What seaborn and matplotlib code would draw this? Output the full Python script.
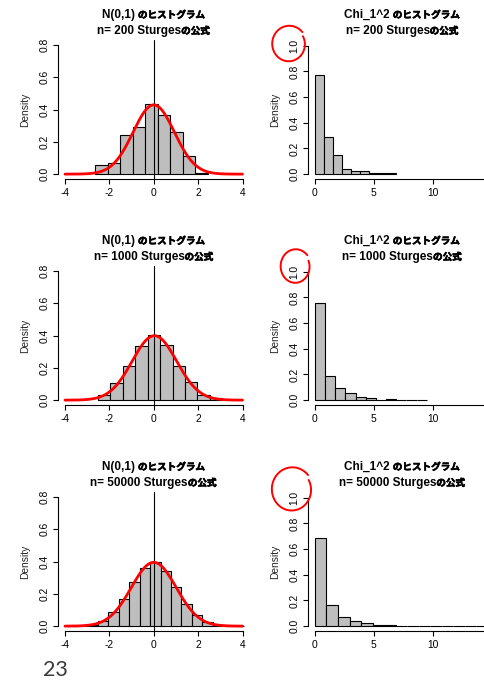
import numpy as np
import pandas as pd
import matplotlib
matplotlib.use("Agg")
import matplotlib.pyplot as plt
import matplotlib.patheffects as pe
from matplotlib.lines import Line2D
from matplotlib.offsetbox import TextArea, HPacker, AnchoredOffsetbox
import seaborn as sns

# ---------------- data ----------------
sample_sizes = [200, 1000, 50000]

# N(0,1) samples: bin edges (Sturges' number of classes) and densities
norm_edges_200 = [-2.64, -2.075, -1.51, -0.945, -0.38, 0.185, 0.75, 1.315, 1.88, 2.445]
norm_density_200 = [0.056, 0.066, 0.240, 0.292, 0.435, 0.364, 0.263, 0.112, 0.009]

norm_edges_1000 = [-2.517, -1.956, -1.395, -0.834, -0.273, 0.288, 0.849, 1.41,
                   1.971, 2.532, 3.093]
norm_density_1000 = [0.029, 0.108, 0.213, 0.333, 0.402, 0.342, 0.211, 0.110, 0.033, 0.014]

norm_edges_50000 = [-3.927, -3.457, -2.986, -2.516, -2.046, -1.575, -1.105, -0.634,
                    -0.164, 0.306, 0.777, 1.247, 1.717, 2.188, 2.658, 3.129, 3.599, 4.07]
norm_density_50000 = [0.0005, 0.0024, 0.0095, 0.033, 0.085, 0.168, 0.275, 0.360, 0.395,
                      0.340, 0.240, 0.139, 0.066, 0.027, 0.008, 0.0015, 0.0003]

# fitted normal curve (sample mean, sample sd) for each N(0,1) panel
norm_fit_mean = [0.0, 0.03, 0.0]
norm_fit_sd = [0.93, 1.0, 1.01]

# chi-square(1) samples
chi_edges_200 = [0.0, 0.761, 1.522, 2.283, 3.044, 3.805, 4.566, 5.327, 6.088, 6.849]
chi_density_200 = [0.774, 0.292, 0.146, 0.039, 0.027, 0.027, 0.007, 0.007, 0.007]

chi_edges_1000 = [0.0, 0.863, 1.725, 2.588, 3.451, 4.314, 5.176, 6.039, 6.902, 7.765,
                  8.627, 9.49]
chi_density_1000 = [0.753, 0.186, 0.098, 0.052, 0.021, 0.018, 0.005, 0.011, 0.003, 0.003,
                    0.005]

chi_edges_50000 = [0.0, 0.98, 1.96, 2.94, 3.92, 4.90, 5.88, 6.86, 7.84, 8.82, 9.80, 10.78,
                   11.76, 12.74, 13.72, 14.70, 15.68, 16.66]
chi_density_50000 = [0.687, 0.164, 0.075, 0.037, 0.022, 0.012, 0.007, 0.004, 0.002,
                     0.0013, 0.0007, 0.0004, 0.0002, 0.0001, 0.0001, 0.00005, 0.00003]

norm_edges = [norm_edges_200, norm_edges_1000, norm_edges_50000]
norm_density = [norm_density_200, norm_density_1000, norm_density_50000]
chi_edges = [chi_edges_200, chi_edges_1000, chi_edges_50000]
chi_density = [chi_density_200, chi_density_1000, chi_density_50000]

norm_xticks = [-4, -2, 0, 2, 4]
norm_yticks = [0.0, 0.2, 0.4, 0.6, 0.8]
chi_xticks = [0, 5, 10]
chi_axis_end = 15          # x axis line runs on to the next tick (past the page edge)
chi_yticks = [0.0, 0.2, 0.4, 0.6, 0.8, 1.0]

# ---------------- style ----------------
sns.set_style("ticks")
plt.rcParams["font.family"] = ["Liberation Sans", "Noto Sans CJK JP", "DejaVu Sans"]
plt.rcParams["axes.unicode_minus"] = False

W, H = 484, 681
fig = plt.figure(figsize=(W / 100, H / 100), dpi=100)
fig.patch.set_facecolor("white")

ROW_STEP = 226
BAR_GRAY = "#BEBEBE"
TICK_SIZE = 7.4
LATIN_TITLE = dict(family="Liberation Sans", weight="bold", size=8.5, color="black")
CJK_TITLE = dict(family="Noto Sans CJK JP", weight="bold", size=6.9, color="black",
                 path_effects=[pe.withStroke(linewidth=0.45, foreground="black")])


def px_box(x0, top, x1, bottom):
    return [x0 / W, 1 - bottom / H, (x1 - x0) / W, (bottom - top) / H]


def title_line(parts, cx, cy):
    boxes = [TextArea(s, textprops=p) for s, p in parts]
    row = HPacker(children=boxes, align="baseline", pad=0, sep=0)
    anchored = AnchoredOffsetbox(loc="center", child=row, pad=0, borderpad=0,
                                 frameon=False, bbox_to_anchor=(cx / W, 1 - cy / H),
                                 bbox_transform=fig.transFigure)
    fig.add_artist(anchored)


def draw_hist(ax, edges, density):
    mids = [(a + b) / 2 for a, b in zip(edges[:-1], edges[1:])]
    table = pd.DataFrame({"value": mids, "density": density})
    sns.histplot(data=table, x="value", weights="density", bins=list(edges),
                 stat="count", color=BAR_GRAY, edgecolor="black", linewidth=0.8,
                 alpha=1, ax=ax, zorder=2)


def style_axes(ax, xlim, ylim, xticks, yticks, ylabel_x, x_end):
    ax.set_xlim(*xlim)
    ax.set_ylim(*ylim)
    ax.set_xticks(xticks)
    ax.set_xticklabels([str(t) for t in xticks])
    ax.set_yticks(yticks)
    ax.set_yticklabels([f"{t:.1f}" for t in yticks])
    for s in ("top", "right"):
        ax.spines[s].set_visible(False)
    for s in ("left", "bottom"):
        ax.spines[s].set_linewidth(0.8)
        ax.spines[s].set_color("black")
    ax.spines["bottom"].set_bounds(xticks[0], x_end)
    ax.spines["left"].set_bounds(yticks[0], yticks[-1])
    ax.tick_params(direction="out", length=3.6, width=0.8, colors="black",
                   labelsize=TICK_SIZE)
    ax.tick_params(axis="x", pad=3.0)
    ax.tick_params(axis="y", pad=2.7)
    for lab in ax.get_yticklabels():
        lab.set_rotation(90)
        lab.set_va("center")
    ax.set_xlabel("")
    ax.set_ylabel("Density", fontsize=TICK_SIZE, va="center", ha="center")
    ax.yaxis.set_label_coords(ylabel_x, 0.5)
    ax.set_facecolor("white")
    ax.grid(False)


for r, n in enumerate(sample_sizes):
    off = r * ROW_STEP

    # ---- left: N(0,1) ----
    ax = fig.add_axes(px_box(57.9, 39.8 + off, 249.6, 179.3 + off))
    draw_hist(ax, norm_edges[r], norm_density[r])
    ax.axvline(0, color="black", lw=0.8, zorder=3)
    xs = np.linspace(-4, 4, 401)
    mu, sd = norm_fit_mean[r], norm_fit_sd[r]
    ys = np.exp(-0.5 * ((xs - mu) / sd) ** 2) / (sd * np.sqrt(2 * np.pi))
    sns.lineplot(x=xs, y=ys, color="red", linewidth=2.0, ax=ax, zorder=4)
    style_axes(ax, (-4.32, 4.32), (-0.032, 0.832), norm_xticks, norm_yticks,
               (25 - 57.9) / 191.7, norm_xticks[-1])

    title_line([("N(0,1) ", LATIN_TITLE), ("のヒストグラム", CJK_TITLE)], 153.5, 15 + off)
    title_line([(f"n= {n} Sturges", LATIN_TITLE), ("の公式", CJK_TITLE)], 153.5, 31 + off)

    # ---- right: chi-square(1) ----
    ax2 = fig.add_axes(px_box(307.9, 40.6 + off, 498.6, 179.3 + off))
    draw_hist(ax2, chi_edges[r], chi_density[r])
    style_axes(ax2, (-0.6, 15.6), (-0.04, 1.04), chi_xticks, chi_yticks,
               (275 - 307.9) / 190.7, chi_axis_end)

    title_line([("Chi_1^2 ", LATIN_TITLE), ("のヒストグラム", CJK_TITLE)], 402, 15 + off)
    title_line([(f"n= {n} Sturges", LATIN_TITLE), ("の公式", CJK_TITLE)], 402, 31 + off)


# hand-drawn red loops around the "1.0" labels
def loop(cx, cy, rx, ry, start, sweep, grow):
    t = np.radians(np.linspace(start, start + sweep, 200))
    f = 1 + grow * np.linspace(0, 1, t.size)
    x = cx + rx * f * np.cos(t)
    y = cy - ry * f * np.sin(t)
    fig.add_artist(Line2D(x / W, 1 - y / H, transform=fig.transFigure,
                          color="red", lw=1.4, solid_capstyle="round"))


loop(289.0, 44.0, 17.5, 18.5, 40, 348, -0.1)
loop(295.5, 266.5, 15.5, 17.5, 40, 342, -0.1)
loop(292.0, 489.5, 21.0, 22.5, 40, 348, -0.1)

# page number
fig.text(43 / W, 1 - 676 / H, "23", fontsize=15.5, fontweight="normal",
         family=["Lato", "DejaVu Sans"], color="#3a3a3a", ha="left", va="baseline")

fig.savefig("out.png", dpi=100, facecolor="white")
